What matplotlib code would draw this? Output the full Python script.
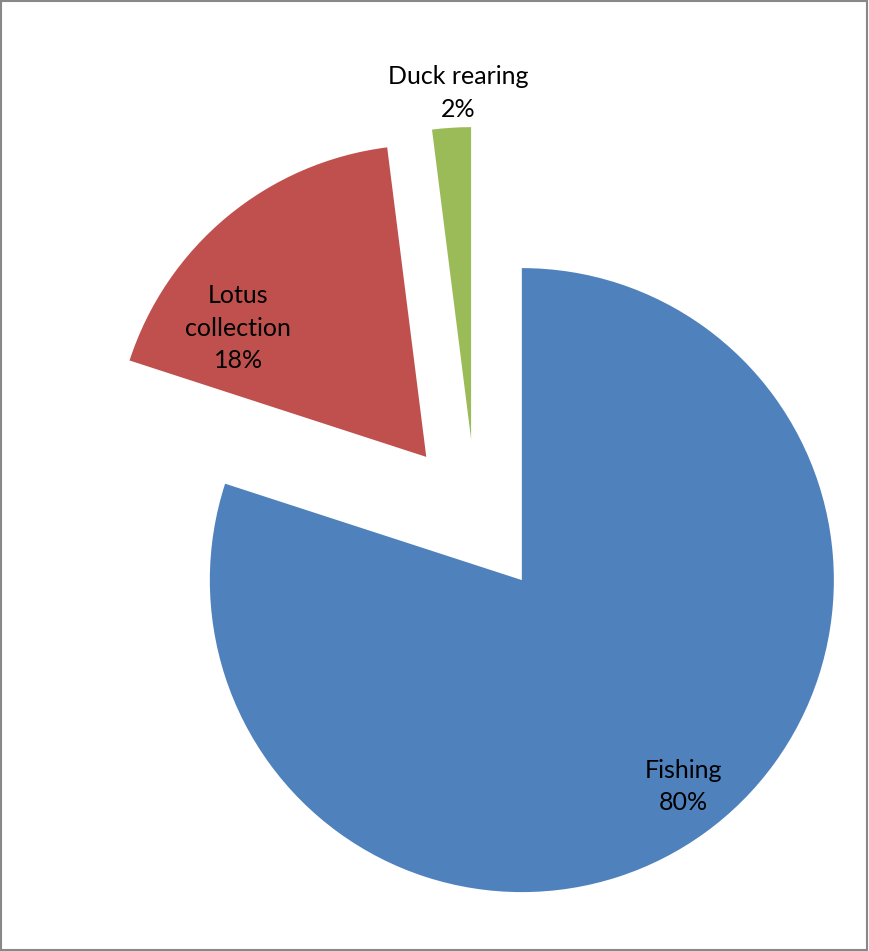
import numpy as np
from matplotlib import pyplot as plt

# =============================================================================
# data
# =============================================================================
labels = ['Fishing', 'Lotus\ncollection', 'Duck rearing']
shares = [80, 18, 2]
colors = ['#4F81BD', '#C0504D', '#9BBB59']

# label placement (fraction of radius, angle shift from slice middle in degrees)
lab_dist = [0.84, 0.73, 1.11]
lab_shift = [2, 16, -1.5]

plt.rcParams['font.family'] = ['Lato', 'DejaVu Sans']

fig = plt.figure(figsize=(8.69, 9.51), dpi=100)
ax = fig.add_axes([0, 0, 1, 1])

wedges, _ = ax.pie(shares, colors=colors, startangle=90, counterclock=False,
                   explode=[0.25, 0.25, 0.25], radius=1.0,
                   wedgeprops=dict(linewidth=0))

for w, lab, s, d, sh in zip(wedges, labels, shares, lab_dist, lab_shift):
    mid = np.deg2rad((w.theta1 + w.theta2) / 2 + sh)
    cx, cy = w.center
    ax.text(cx + d * np.cos(mid), cy + d * np.sin(mid), lab + '\n' + str(s) + '%',
            ha='center', va='center', fontsize=18, color='black',
            linespacing=1.5)

# pixel scale: radius ~312 px, pie centre at (476, 434) from bottom-left
r_px = 312.0
ax.set_xlim(-476 / r_px, (869 - 476) / r_px)
ax.set_ylim(-434 / r_px, (951 - 434) / r_px)
ax.set_aspect('auto')
ax.axis('off')

# outer frame
fig.patches.append(plt.Rectangle((0.001, 0.001), 0.997, 0.998, transform=fig.transFigure,
                                 fill=False, edgecolor='#888888', linewidth=1.5))

fig.savefig('out.png', dpi=100, facecolor='white')
